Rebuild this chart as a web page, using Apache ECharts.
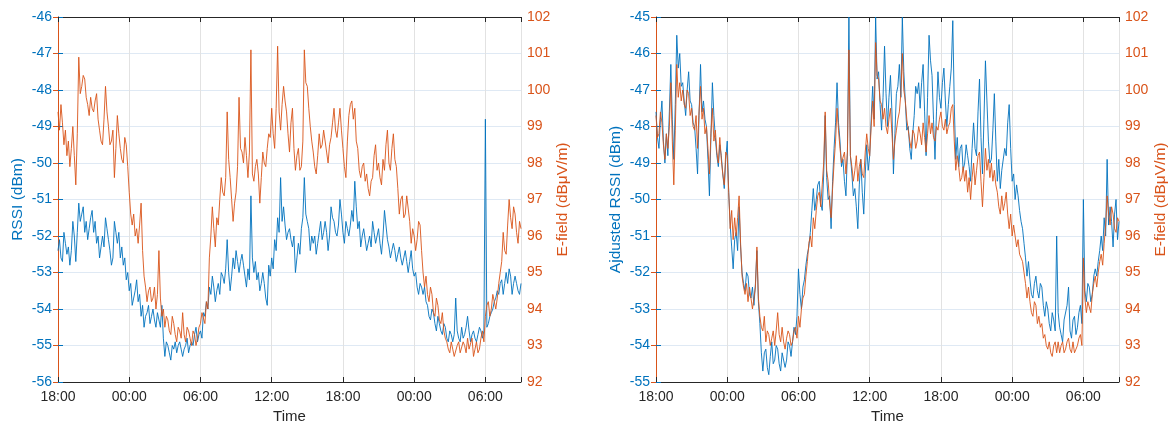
<!DOCTYPE html>
<html><head><meta charset="utf-8">
<script src="https://cdn.jsdelivr.net/npm/echarts@6/dist/echarts.min.js"></script>
<style>html,body{margin:0;padding:0;background:#fff;overflow:hidden}#c{width:1175px;height:423px}</style>
</head><body><div id="c"></div>
<script>
// Time axis: hours elapsed since 18:00 on day 1.
// Main samples every 15 minutes; "Mid" samples sit 7.5 minutes after each main sample.
const STEP_HOURS = 0.25;
const timeTickLabels = ['18:00', '00:00', '06:00', '12:00', '18:00', '00:00', '06:00'];

// ---------- Left panel: RSSI (dBm) ----------
const leftRSSI = [
  -52.4, -52.6, -51.9, -52.5, -52.8, -51.6, -52.7, -51.1,
  -51.4, -51.9, -52.1, -51.5, -51.9, -52.2, -52.6, -52.0,
  -51.5, -52.1, -52.8, -51.6, -52.2, -52.6, -52.8, -53.2,
  -53.5, -53.9, -53.5, -53.8, -54.2, -54.5, -54.1, -54.4,
  -54.0, -54.5, -54.3, -53.9, -55.3, -55.0, -55.4, -55.1,
  -55.2, -54.9, -55.3, -55.0, -55.2, -54.9, -54.7, -54.9,
  -54.6, -54.1, -53.8, -53.4, -53.1, -53.8, -53.3, -53.0,
  -53.3, -52.1, -53.5, -52.6, -52.4, -53.0, -52.5, -53.1,
  -52.9, -50.9, -53.0, -53.2, -53.5, -53.0, -53.7, -52.8,
  -52.6, -52.1, -51.5, -50.4, -51.2, -52.1, -51.8, -52.3,
  -53.0, -52.2, -51.8, -50.4, -51.6, -52.4, -52.2, -52.5,
  -51.9, -52.1, -51.6, -52.4, -51.2, -51.6, -52.0, -51.0,
  -51.9, -51.6, -52.0, -51.3, -50.5, -51.8, -52.3, -51.8,
  -52.4, -52.0, -51.6, -52.2, -51.8, -52.5, -51.3, -52.1,
  -52.6, -52.2, -52.7, -52.3, -52.8, -52.4, -53.0, -52.4,
  -53.1, -53.4, -53.3, -53.6, -53.8, -54.2, -54.0, -54.4,
  -54.2, -54.6, -54.4, -54.8, -54.6, -54.9, -53.7, -54.8,
  -54.5, -54.7, -54.2, -54.9, -54.6, -54.9, -54.5, -54.8,
  -48.8, -54.4, -54.1, -53.8, -53.5, -53.3, -53.6, -53.0,
  -52.9, -53.6, -53.1, -53.5, -53.3
];
const leftRSSIMid = [
  -52.1, -52.7, -52.2, -52.3, -52.4, -52.0, -51.9, -51.6,
  -51.2, -51.6, -51.8, -51.3, -51.6, -52.0, -52.3, -52.3,
  -51.8, -52.4, -52.6, -51.9, -51.9, -52.3, -52.6, -53.0,
  -53.3, -53.7, -53.2, -53.6, -53.9, -54.2, -53.9, -54.2,
  -54.3, -54.1, -54.5, -54.8, -54.9, -55.2, -55.0, -54.9,
  -55.0, -55.1, -55.1, -54.8, -55.0, -55.0, -54.5, -54.7,
  -54.8, -54.2, -54.0, -53.6, -53.4, -53.5, -53.6, -53.1,
  -52.9, -53.0, -53.1, -52.9, -52.7, -52.7, -52.8, -53.4,
  -53.2, -52.6, -52.7, -53.0, -53.3, -53.3, -53.9, -53.1,
  -52.9, -52.4, -51.9, -51.6, -51.7, -51.9, -52.1, -52.0,
  -52.6, -52.5, -51.5, -51.4, -51.8, -52.0, -52.0, -52.2,
  -51.6, -51.9, -51.9, -52.0, -51.5, -51.9, -51.7, -51.4,
  -52.2, -51.8, -51.7, -51.6, -51.2, -51.6, -52.0, -52.1,
  -52.2, -52.3, -51.9, -52.0, -52.2, -52.0, -51.7, -52.3,
  -52.4, -52.4, -52.5, -52.6, -52.6, -52.7, -52.7, -52.9,
  -53.0, -53.6, -53.4, -53.4, -53.9, -54.3, -54.1, -54.6,
  -54.4, -54.7, -54.5, -54.9, -54.7, -54.7, -54.6, -54.9,
  -54.8, -54.5, -54.6, -54.7, -54.8, -54.7, -54.6, -54.6,
  -54.5, -54.2, -54.0, -53.7, -53.6, -53.2, -53.3, -53.3,
  -53.1, -53.3, -53.3, -53.6
];
// ---------- Left panel: E-field (dBµV/m) ----------
const leftEField = [
  99.4, 99.6, 98.5, 98.2, 97.9, 99.0, 97.4, 100.9,
  100.1, 100.3, 99.6, 99.8, 99.4, 99.9, 98.9, 98.5,
  100.1, 99.0, 98.6, 97.6, 99.3, 98.4, 98.0, 98.5,
  97.2, 96.3, 96.0, 95.8, 96.9, 94.9, 94.2, 94.6,
  94.3, 94.0, 95.6, 93.8, 93.5, 93.7, 93.3, 93.6,
  93.1, 93.4, 93.9, 93.1, 93.4, 93.0, 93.3, 93.2,
  93.6, 93.9, 94.2, 95.4, 96.8, 95.7, 96.3, 97.6,
  97.1, 99.4, 97.6, 96.4, 97.2, 99.8, 98.3, 98.7,
  97.6, 101.1, 97.5, 98.1, 96.9, 98.3, 97.9, 98.8,
  99.5, 98.4, 101.2, 98.9, 100.1, 99.4, 98.3, 99.5,
  97.8, 98.4, 97.9, 101.1, 100.1, 99.0, 98.3, 97.7,
  98.8, 98.5, 98.9, 98.0, 98.7, 99.5, 98.7, 99.5,
  98.4, 97.6, 99.3, 99.7, 99.5, 98.4, 97.6, 98.0,
  97.7, 97.1, 97.6, 98.5, 98.0, 97.4, 97.8, 98.9,
  97.8, 98.8, 97.9, 96.6, 97.1, 96.6, 97.1, 95.8,
  96.0, 95.9, 96.3, 95.0, 94.9, 94.2, 94.4, 93.8,
  94.1, 93.6, 93.4, 93.1, 92.8, 92.9, 92.7, 93.1,
  92.8, 93.0, 93.2, 92.9, 92.7, 93.1, 92.9, 93.4,
  93.8, 94.2, 94.0, 94.4, 94.3, 95.0, 96.1, 95.5,
  97.0, 96.2, 96.6, 95.8, 96.2
];
const leftEFieldMid = [
  98.9, 99.1, 98.9, 98.6, 98.4, 98.2, 98.8, 99.9,
  100.4, 99.8, 99.3, 99.5, 99.7, 99.2, 98.6, 99.2,
  99.4, 98.5, 98.9, 98.4, 98.8, 98.1, 98.7, 97.9,
  96.6, 96.6, 96.2, 96.3, 95.6, 94.6, 94.5, 94.2,
  94.6, 94.4, 94.3, 94.0, 93.8, 93.4, 93.8, 93.3,
  93.5, 93.2, 93.3, 93.5, 93.2, 93.4, 93.0, 93.5,
  93.9, 93.6, 94.0, 96.0, 96.2, 96.5, 97.0, 97.2,
  97.6, 98.1, 97.0, 96.9, 97.9, 98.4, 98.0, 98.2,
  98.3, 97.7, 97.9, 97.7, 97.6, 98.0, 98.4, 98.7,
  98.8, 99.5, 99.4, 99.6, 99.7, 98.8, 99.1, 98.4,
  98.2, 97.8, 98.6, 100.2, 99.5, 98.6, 97.9, 98.2,
  98.4, 98.9, 98.3, 98.5, 99.1, 98.9, 99.1, 98.9,
  97.9, 98.6, 99.6, 99.2, 98.6, 97.8, 97.9, 97.5,
  97.3, 97.5, 98.2, 97.8, 97.6, 98.1, 98.5, 98.0,
  98.4, 98.1, 97.3, 97.0, 96.5, 97.1, 96.4, 96.2,
  95.6, 96.4, 95.6, 94.6, 94.4, 94.6, 93.9, 94.3,
  93.7, 93.9, 93.2, 92.9, 93.1, 92.7, 93.0, 92.8,
  93.1, 92.8, 92.9, 93.2, 92.9, 92.8, 93.2, 93.1,
  94.1, 93.8, 94.4, 94.0, 94.7, 95.3, 95.6, 96.3,
  96.5, 96.8, 96.1, 96.4
];
// ---------- Right panel: adjusted RSSI (dBm) ----------
const adjustedRSSI = [
  -47.6, -48.6, -47.3, -49.0, -48.8, -46.3, -48.9, -45.5,
  -46.0, -46.8, -47.7, -46.5, -47.4, -48.0, -49.3, -46.3,
  -47.3, -48.0, -49.9, -46.8, -48.3, -49.1, -48.8, -49.7,
  -48.4, -50.7, -51.9, -50.9, -50.2, -52.0, -52.5, -52.1,
  -52.7, -52.9, -51.4, -53.4, -54.7, -54.1, -54.8, -53.9,
  -54.4, -54.1, -54.7, -54.2, -54.4, -54.0, -53.9, -53.7,
  -51.9, -53.0, -52.2, -51.5, -50.9, -49.7, -50.0, -49.5,
  -50.3, -47.7, -50.0, -50.8, -48.6, -46.8, -48.4, -48.9,
  -49.9, -45.0, -49.3, -49.7, -50.8, -48.9, -50.4, -48.5,
  -48.8, -46.9, -45.0, -46.5, -48.1, -45.8, -48.0, -46.6,
  -49.3, -47.1, -46.3, -45.0, -47.3, -48.0, -48.9, -47.7,
  -47.1, -47.5, -46.3, -48.8, -45.5, -46.6, -48.9, -46.5,
  -47.5, -46.4, -48.0, -46.9, -45.1, -48.9, -49.1, -48.5,
  -49.0, -48.8, -49.5, -47.9, -48.8, -46.7, -49.3, -46.2,
  -48.4, -48.9, -47.1, -49.5, -49.7, -49.2, -48.8, -47.4,
  -49.5, -50.0, -49.9, -50.6, -51.2, -52.1, -52.2, -52.7,
  -52.1, -52.7, -52.4, -53.2, -53.0, -53.6, -53.3, -51.0,
  -53.5, -53.9, -53.3, -52.4, -53.8, -53.2, -53.5, -52.9,
  -50.0, -52.8, -52.4, -52.6, -51.9, -51.7, -51.0, -50.5,
  -48.9, -50.2, -51.3, -50.0, -50.6
];
const adjustedRSSIMid = [
  -48.3, -47.8, -48.4, -48.2, -47.6, -47.8, -47.4, -46.4,
  -46.9, -47.3, -47.0, -47.3, -47.9, -48.6, -47.7, -47.6,
  -47.8, -48.9, -48.3, -47.7, -48.8, -48.5, -49.3, -48.9,
  -49.8, -51.3, -51.1, -51.4, -51.3, -52.3, -52.0, -52.6,
  -52.4, -52.3, -52.8, -54.2, -54.2, -54.6, -54.3, -54.5,
  -54.0, -54.5, -54.2, -54.6, -53.9, -54.3, -53.5, -53.2,
  -52.6, -52.4, -51.8, -51.3, -50.3, -50.3, -49.6, -50.1,
  -49.3, -49.4, -49.9, -49.5, -47.9, -47.9, -49.1, -49.5,
  -48.7, -48.8, -49.9, -50.2, -49.6, -49.8, -49.3, -49.2,
  -47.8, -47.8, -46.7, -47.4, -47.2, -47.1, -47.2, -47.6,
  -48.2, -46.9, -47.2, -46.5, -48.1, -48.6, -48.2, -46.9,
  -46.8, -46.8, -47.6, -47.2, -46.2, -47.8, -47.6, -47.2,
  -46.8, -47.3, -47.4, -46.4, -47.4, -48.3, -48.6, -49.2,
  -48.5, -49.1, -48.6, -48.6, -47.6, -48.3, -47.8, -47.3,
  -49.0, -48.1, -48.4, -48.9, -49.2, -48.6, -47.9, -48.6,
  -49.3, -49.6, -50.3, -50.8, -51.6, -51.7, -52.6, -52.3,
  -52.5, -52.3, -52.9, -52.8, -53.4, -53.1, -53.6, -53.1,
  -53.7, -53.3, -52.9, -53.6, -53.3, -53.7, -53.1, -53.4,
  -52.5, -52.3, -52.8, -52.1, -52.1, -51.4, -51.4, -51.0,
  -50.7, -50.6, -50.4, -51.1
];
// ---------- Right panel: E-field (dBµV/m) ----------
const rightEField = [
  99.3, 98.8, 99.1, 98.1, 98.4, 100.2, 97.4, 100.7,
  100.2, 100.0, 99.5, 99.9, 99.5, 98.9, 98.4, 100.1,
  99.5, 99.0, 97.7, 99.5, 98.9, 98.0, 98.1, 97.4,
  98.2, 96.2, 95.9, 96.0, 97.1, 94.9, 94.4, 94.2,
  94.3, 94.0, 95.7, 93.8, 93.4, 93.1, 93.3, 93.2,
  93.0, 93.9, 93.1, 93.1, 93.2, 93.3, 93.1, 93.5,
  93.8, 94.0, 94.4, 95.3, 96.0, 96.5, 96.7, 97.2,
  97.4, 99.4, 97.5, 96.5, 98.0, 99.5, 98.4, 98.0,
  97.7, 101.1, 97.9, 97.8, 97.5, 98.1, 97.6, 98.8,
  98.2, 99.7, 101.3, 100.3, 99.6, 99.5, 98.8, 99.5,
  98.1, 98.9, 99.4, 101.0, 99.7, 98.9, 98.4, 98.8,
  98.6, 98.8, 99.1, 98.3, 99.3, 99.1, 98.6, 98.9,
  99.4, 98.9, 98.8, 99.1, 99.6, 97.8, 97.9, 97.6,
  97.5, 97.2, 97.0, 98.0, 97.8, 98.3, 96.8, 98.4,
  98.1, 98.0, 97.8, 97.2, 96.6, 96.7, 97.2, 96.2,
  96.0, 96.3, 95.9, 95.5, 95.0, 94.3, 94.2, 93.8,
  94.1, 93.8, 93.6, 93.3, 92.9, 92.8, 93.0, 92.8,
  92.8, 93.1, 92.9, 93.2, 92.8, 92.8, 93.0, 93.3,
  95.4, 93.9, 94.2, 94.4, 94.9, 95.0, 95.5, 95.8,
  97.1, 96.3, 96.6, 96.1, 96.4
];
const rightEFieldMid = [
  98.7, 99.4, 98.5, 98.8, 99.0, 98.6, 98.9, 99.8,
  99.7, 99.6, 100.0, 99.3, 99.0, 99.3, 99.4, 99.2,
  98.8, 98.4, 98.8, 98.6, 98.3, 98.7, 97.7, 98.3,
  97.2, 96.7, 96.5, 96.5, 95.8, 94.6, 94.7, 94.6,
  94.0, 94.6, 94.3, 93.5, 93.8, 93.4, 93.0, 93.4,
  93.4, 93.3, 93.5, 92.9, 93.4, 93.0, 93.4, 93.2,
  93.5, 94.3, 94.9, 95.8, 95.7, 96.2, 97.1, 96.8,
  98.0, 97.8, 96.9, 97.3, 98.6, 98.9, 98.0, 98.3,
  98.3, 98.2, 97.5, 98.2, 97.9, 97.7, 98.3, 98.4,
  99.0, 99.0, 100.4, 99.7, 99.2, 99.0, 99.2, 98.8,
  98.6, 99.2, 99.9, 100.0, 99.2, 98.6, 98.9, 98.4,
  99.0, 98.5, 98.7, 98.8, 98.8, 98.7, 99.0, 99.2,
  99.0, 99.2, 99.0, 99.5, 98.6, 98.2, 97.5, 97.9,
  97.8, 97.6, 97.6, 97.4, 98.2, 97.5, 97.6, 97.8,
  97.6, 97.5, 97.4, 96.8, 97.1, 96.9, 96.6, 96.6,
  96.3, 95.7, 95.5, 95.3, 94.7, 94.6, 93.9, 94.2,
  93.6, 93.5, 93.2, 93.0, 93.1, 92.7, 93.1, 93.1,
  93.0, 92.8, 93.1, 92.9, 93.1, 92.9, 93.2, 93.0,
  94.3, 94.2, 93.9, 94.7, 94.6, 95.3, 95.2, 96.3,
  96.6, 96.8, 96.2, 96.5
];

const BLUE = '#0072BD', ORANGE = '#D95319', INK = '#262626';
const FONT = 'Liberation Sans, Arial, Helvetica, sans-serif';

// Interleave the quarter-hour samples with the samples 7.5 minutes later.
function pairs(main, mid) {
  const out = [];
  for (let i = 0; i < main.length; i++) {
    out.push([i * STEP_HOURS, main[i]]);
    if (i < mid.length && i < main.length - 1) out.push([i * STEP_HOURS + STEP_HOURS / 2, mid[i]]);
  }
  return out;
}

const chart = echarts.init(document.getElementById('c'), null, { renderer: 'canvas' });

const grids = [
  { left: 58, top: 17, width: 463, height: 365, containLabel: false, outerBoundsMode: 'none' },
  { left: 656, top: 17, width: 463, height: 365, containLabel: false, outerBoundsMode: 'none' }
];

function xBottom(g) {
  return {
    type: 'value', gridIndex: g, position: 'bottom', min: 0, max: 39, interval: 6,
    axisLine: { show: true, lineStyle: { color: INK, width: 1 } },
    axisTick: { show: true, inside: true, length: 5, lineStyle: { color: INK } },
    axisLabel: {
      color: INK, fontSize: 14, fontFamily: FONT, margin: 8,
      formatter: v => (v % 6 === 0 ? timeTickLabels[v / 6] : '')
    },
    splitLine: { show: true, lineStyle: { color: '#e2e2e2', width: 1 } },
    name: 'Time', nameLocation: 'middle', nameGap: 26,
    nameTextStyle: { color: INK, fontSize: 15, fontFamily: FONT }
  };
}
function xTop(g) {
  return {
    type: 'value', gridIndex: g, position: 'top', min: 0, max: 39, interval: 6,
    axisLine: { show: true, lineStyle: { color: INK, width: 1 } },
    axisTick: { show: true, inside: true, length: 5, lineStyle: { color: INK } },
    axisLabel: { show: false }, splitLine: { show: false }
  };
}
function yLeft(g, min, max, name) {
  return {
    type: 'value', gridIndex: g, position: 'left', min: min, max: max, interval: 1,
    axisLine: { show: true, lineStyle: { color: BLUE, width: 1 } },
    axisTick: { show: true, inside: true, length: 5, lineStyle: { color: BLUE } },
    axisLabel: { color: BLUE, fontSize: 14, fontFamily: FONT, margin: 6 },
    splitLine: { show: true, lineStyle: { color: '#dfe9f4', width: 1 } },
    name: name, nameLocation: 'middle', nameGap: 32, nameRotate: 90,
    nameTextStyle: { color: BLUE, fontSize: 15.5, fontFamily: FONT }
  };
}
function yRight(g, min, max, name) {
  return {
    type: 'value', gridIndex: g, position: 'right', min: min, max: max, interval: 1,
    axisLine: { show: true, lineStyle: { color: ORANGE, width: 1 } },
    axisTick: { show: true, inside: true, length: 5, lineStyle: { color: ORANGE } },
    axisLabel: { color: ORANGE, fontSize: 14, fontFamily: FONT, margin: 6 },
    splitLine: { show: false },
    name: name, nameLocation: 'middle', nameGap: 34, nameRotate: 90,
    nameTextStyle: { color: ORANGE, fontSize: 15.5, fontFamily: FONT }
  };
}
function line(xi, yi, main, mid, color) {
  return {
    type: 'line', xAxisIndex: xi, yAxisIndex: yi, data: pairs(main, mid),
    showSymbol: false, symbol: 'none', clip: true,
    lineStyle: { color: color, width: 0.9 }, sampling: null
  };
}

chart.setOption({
  animation: false,
  backgroundColor: '#ffffff',
  grid: grids,
  xAxis: [xBottom(0), xTop(0), xBottom(1), xTop(1)],
  yAxis: [
    yLeft(0, -56, -46, 'RSSI (dBm)'),
    yRight(0, 92, 102, 'E-field (dBμV/m)'),
    yLeft(1, -55, -45, 'Ajdusted RSSI (dBm)'),
    yRight(1, 92, 102, 'E-field (dBμV/m)')
  ],
  series: [
    line(0, 0, leftRSSI, leftRSSIMid, BLUE),
    line(0, 1, leftEField, leftEFieldMid, ORANGE),
    line(2, 2, adjustedRSSI, adjustedRSSIMid, BLUE),
    line(2, 3, rightEField, rightEFieldMid, ORANGE)
  ]
});
</script>
</body></html>
